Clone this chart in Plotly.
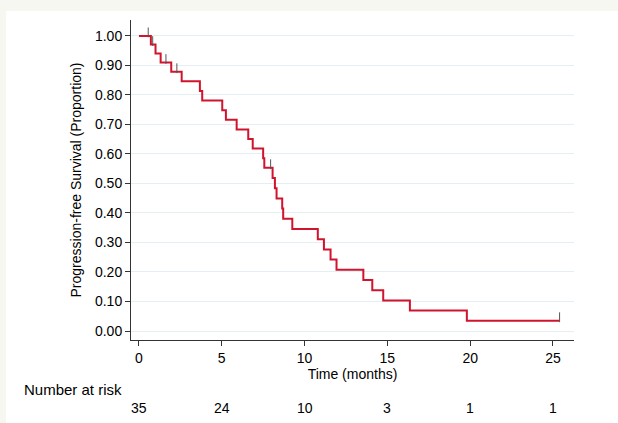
import plotly.graph_objects as go

# ---- data ----
times = [0.56, 0.72, 0.83, 1.0, 1.31, 1.63, 1.95, 2.29, 2.58, 3.68,
         3.82, 5.03, 5.25, 5.9, 6.6, 6.87, 7.5, 7.57, 7.95, 8.07,
         8.21, 8.31, 8.65, 8.71, 9.26, 10.8, 11.17, 11.57, 11.93, 13.55,
         14.09, 14.75, 16.36, 19.8, 25.4]
events = [0, 1, 0, 1, 1, 0, 1, 0, 1, 1,
          1, 1, 1, 1, 1, 1, 1, 1, 0, 1,
          1, 1, 1, 1, 1, 1, 1, 1, 1, 1,
          1, 1, 1, 1, 0]
risk_times = [0, 5, 10, 15, 20, 25]
at_risk = [35, 24, 10, 3, 1, 1]
y_ticks = [0.0, 0.1, 0.2, 0.3, 0.4, 0.5, 0.6, 0.7, 0.8, 0.9, 1.0]
x_ticks = [0, 5, 10, 15, 20, 25]

# ---- Kaplan-Meier estimate ----
n = len(times)
S = 1.0
step_x, step_y = [0.0], [1.0]
cens_x, cens_y = [], []
for t, e in zip(times, events):
    if e:
        S = S * (n - 1) / n
        step_x.append(t)
        step_y.append(S)
    else:
        cens_x.append(t)
        cens_y.append(S)
    n -= 1
step_x.append(times[-1])
step_y.append(S)

RED = "#d0142e"
FONT = "Liberation Sans, Arial, Helvetica, sans-serif"

fig = go.Figure()
fig.add_trace(go.Scatter(x=step_x, y=step_y, mode="lines", line_shape="hv",
                         line=dict(color=RED, width=2), hoverinfo="skip",
                         showlegend=False))
fig.add_trace(go.Scatter(x=cens_x, y=[v + 0.012 for v in cens_y], mode="markers",
                         marker=dict(symbol="line-ns", size=7,
                                     line=dict(color="#555555", width=1)),
                         hoverinfo="skip", showlegend=False))

# pixel -> paper helpers (plot area in pixels)
L, R, T, B = 131, 574, 20, 340
def px(x):
    return (x - L) / (R - L)
def py(y):
    return (B - y) / (B - T)

annotations = [dict(text="Number at risk", x=px(22), y=py(389), xref="paper", yref="paper",
                    showarrow=False, font=dict(size=15, color="black", family=FONT),
                    xanchor="left", yanchor="middle")]
for t, v in zip(risk_times, at_risk):
    annotations.append(dict(text=str(v), x=t, y=py(408), xref="x", yref="paper",
                            showarrow=False, xanchor="center", yanchor="middle",
                            font=dict(size=14, color="black", family=FONT)))

fig.update_layout(
    width=618, height=423,
    margin=dict(l=L, r=618 - R, t=T, b=423 - B),
    paper_bgcolor="#f7f7f2",
    plot_bgcolor="white",
    font=dict(family=FONT, size=14, color="black"),
    annotations=annotations,
    shapes=[dict(type="rect", xref="paper", yref="paper",
                 x0=px(6), x1=px(640), y0=py(440), y1=py(11),
                 fillcolor="white", line=dict(width=0), layer="below")],
)
fig.update_xaxes(range=[-0.48, 26.27], tickvals=x_ticks, ticks="outside", ticklen=5,
                 tickcolor="#333333", showline=True, linecolor="#333333", linewidth=1,
                 showgrid=False, zeroline=False,
                 tickfont=dict(size=14, family=FONT),
                 title=dict(text="Time (months)", standoff=3,
                            font=dict(size=14, family=FONT)))
fig.update_yaxes(range=[-0.0305, 1.054], tickvals=y_ticks, tickformat=".2f",
                 ticks="outside", ticklen=5, tickcolor="#333333",
                 showline=True, linecolor="#333333", linewidth=1,
                 showgrid=True, gridcolor="#e5eef2", gridwidth=1, zeroline=False,
                 tickfont=dict(size=14, family=FONT),
                 title=dict(text="Progression-free Survival (Proportion)", standoff=10,
                            font=dict(size=14, family=FONT)))

fig.write_html("out.html", config={"displayModeBar": False},
               post_script="document.body.style.margin='0';")
